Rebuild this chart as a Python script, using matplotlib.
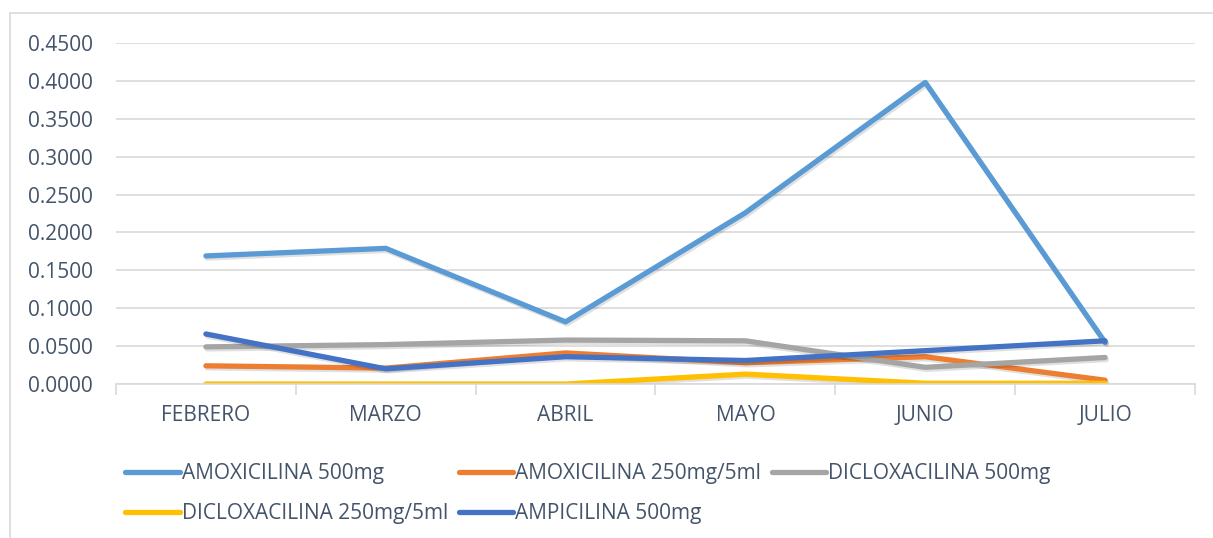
import matplotlib
matplotlib.use('Agg')
import matplotlib.pyplot as plt
import matplotlib.patheffects as pe
from matplotlib.patches import Rectangle
import numpy as np

# data
months = ['FEBRERO', 'MARZO', 'ABRIL', 'MAYO', 'JUNIO', 'JULIO']
amox_500 = [0.169, 0.179, 0.082, 0.226, 0.398, 0.055]
amox_250 = [0.024, 0.021, 0.041, 0.028, 0.036, 0.005]
diclox_500 = [0.049, 0.052, 0.058, 0.057, 0.022, 0.035]
diclox_250 = [0.000, 0.000, 0.000, 0.013, 0.001, 0.001]
ampi_500 = [0.066, 0.020, 0.036, 0.031, 0.044, 0.057]

series = [
    ('AMOXICILINA 500mg', amox_500, '#5B9BD5'),
    ('AMOXICILINA 250mg/5ml', amox_250, '#ED7D31'),
    ('DICLOXACILINA 500mg', diclox_500, '#A5A5A5'),
    ('DICLOXACILINA 250mg/5ml', diclox_250, '#FFC000'),
    ('AMPICILINA 500mg', ampi_500, '#4472C4'),
]

text_color = '#44546A'
plt.rcParams['font.family'] = ['Open Sans', 'DejaVu Sans']
fs = 15

W, H = 1213, 538
fig = plt.figure(figsize=(W / 100, H / 100), dpi=100)
ax = fig.add_axes([116 / W, 1 - 384 / H, (1195 - 116) / W, (384 - 43) / H])

# outer chart border
fig.patches.append(Rectangle((10 / W, -0.1), 1.2, 1 - 13 / H + 0.1,
                             transform=fig.transFigure, fill=False,
                             edgecolor='#D9D9D9', lw=1.2))

x = np.arange(len(months))
handles = {}
for name, vals, col in series:
    ln, = ax.plot(x, vals, color=col, lw=3.8, label=name,
                  solid_capstyle='round', solid_joinstyle='round',
                  path_effects=[pe.SimpleLineShadow(offset=(1, -1.5), alpha=0.12),
                                pe.Normal()])
    handles[name] = ln

ax.set_xlim(-0.5, 5.5)
ax.set_ylim(0, 0.45)
ax.set_yticks(np.arange(0, 0.451, 0.05))
ax.set_yticklabels(['%.4f' % v for v in np.arange(0, 0.451, 0.05)])
ax.set_xticks(x)
ax.set_xticklabels(months)
ax.set_xticks(np.arange(-0.5, 5.6, 1), minor=True)
ax.tick_params(axis='x', which='major', length=0, pad=15, labelsize=fs, labelcolor=text_color)
ax.tick_params(axis='x', which='minor', length=8, color='#D9D9D9', width=1.2)
ax.tick_params(axis='y', length=0, pad=16.5, labelsize=fs, labelcolor=text_color)
ax.grid(axis='y', color='#D9D9D9', lw=1.2)
ax.set_axisbelow(True)
for s in ['left', 'right', 'top']:
    ax.spines[s].set_visible(False)
ax.spines['bottom'].set_color('#D9D9D9')
ax.spines['bottom'].set_linewidth(1.2)

order = ['AMOXICILINA 500mg', 'DICLOXACILINA 250mg/5ml', 'AMOXICILINA 250mg/5ml',
         'AMPICILINA 500mg', 'DICLOXACILINA 500mg']
leg = fig.legend([handles[n] for n in order], order, ncol=3, frameon=False,
                 loc='upper left', bbox_to_anchor=(115 / W, 1 - 453 / H),
                 fontsize=fs, handlelength=2.6, handletextpad=0.12,
                 columnspacing=0.5, labelspacing=0.9, borderpad=0)
for t in leg.get_texts():
    t.set_color(text_color)
for lh in leg.get_lines():
    lh.set_linewidth(3.8)
    lh.set_path_effects([])

fig.savefig('out.png', dpi=100)
